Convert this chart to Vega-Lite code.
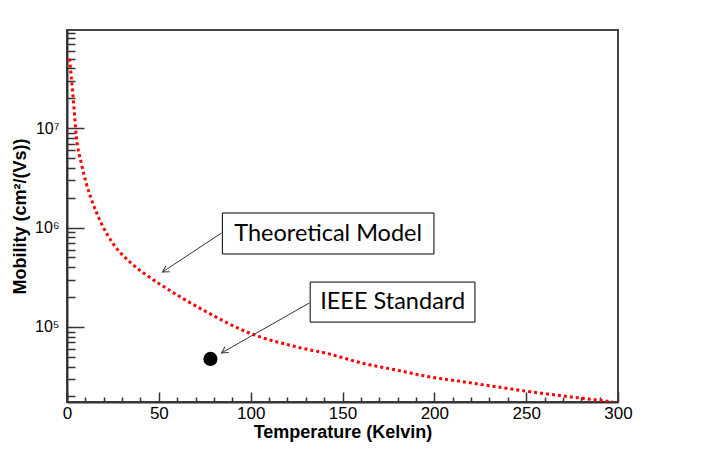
{
  "$schema": "https://vega.github.io/schema/vega-lite/v6.json",
  "width": 551,
  "height": 372,
  "autosize": {"type": "none"},
  "padding": {"left": 67, "top": 30, "right": 85, "bottom": 55},
  "background": "white",
  "config": {
    "view": {"stroke": "#444444", "strokeWidth": 2},
    "axis": {
      "labelFont": "Liberation Sans",
      "labelFontSize": 17,
      "labelColor": "black",
      "labelFlush": false,
      "titleFont": "Liberation Sans",
      "titleFontSize": 18,
      "titleFontWeight": "bold",
      "titleColor": "black",
      "domainColor": "#333333",
      "domainWidth": 2,
      "tickColor": "#333333",
      "tickWidth": 1.5,
      "grid": false
    }
  },
  "datasets": {
    "curve": [
      {"T": 1.4, "mu": 50000000},
      {"T": 3.3, "mu": 20700000},
      {"T": 5.1, "mu": 8200000},
      {"T": 7.8, "mu": 4420000},
      {"T": 10.5, "mu": 2780000},
      {"T": 14.1, "mu": 1750000},
      {"T": 18.7, "mu": 1100000},
      {"T": 25.0, "mu": 693000},
      {"T": 34.1, "mu": 453000},
      {"T": 43.2, "mu": 333000},
      {"T": 52.2, "mu": 258000},
      {"T": 75, "mu": 145000},
      {"T": 99.3, "mu": 87000},
      {"T": 125, "mu": 63000},
      {"T": 142.6, "mu": 53600},
      {"T": 160.9, "mu": 43200},
      {"T": 179, "mu": 37000},
      {"T": 197.1, "mu": 31600},
      {"T": 215.2, "mu": 28200},
      {"T": 233.4, "mu": 25100},
      {"T": 251.5, "mu": 22400},
      {"T": 269.6, "mu": 20300},
      {"T": 287.7, "mu": 18500},
      {"T": 297, "mu": 17700}
    ],
    "ieee": [{"T": 78.1, "mu": 47700}],
    "arrows": [
      {"T": 84.1, "mu": 881000, "T2": 52.0, "mu2": 357000},
      {"T": 131.9, "mu": 174000, "T2": 84.1, "mu2": 54800}
    ],
    "heads": [
      {"T": 52.0, "mu": 357000},
      {"T": 84.1, "mu": 54800}
    ],
    "boxes": [
      {"T": 84.6, "T2": 199.8, "mu": 1400000, "mu2": 542000, "label": "Theoretical Model"},
      {"T": 132.4, "T2": 222.1, "mu": 283000, "mu2": 112000, "label": "IEEE Standard"}
    ],
    "labels": [
      {"T": 142.2, "mu": 871000, "label": "Theoretical Model"},
      {"T": 177.3, "mu": 178000, "label": "IEEE Standard"}
    ]
  },
  "encoding": {
    "x": {
      "field": "T",
      "type": "quantitative",
      "title": "Temperature (Kelvin)",
      "scale": {"domain": [0, 300], "nice": false, "zero": false},
      "axis": {
        "values": [0, 10, 20, 30, 40, 50, 60, 70, 80, 90, 100, 110, 120, 130, 140, 150, 160, 170, 180, 190, 200, 210, 220, 230, 240, 250, 260, 270, 280, 290, 300],
        "labelExpr": "datum.value % 50 == 0 ? datum.label : ''",
        "tickSize": {"condition": {"test": "datum.value % 50 == 0", "value": -10}, "value": -5},
        "labelPadding": 13,
        "titlePadding": 2
      }
    },
    "y": {
      "field": "mu",
      "type": "quantitative",
      "title": "Mobility (cm²/(Vs))",
      "scale": {"type": "log", "domain": [17600, 97000000], "nice": false},
      "axis": {
        "values": [20000, 30000, 40000, 50000, 60000, 70000, 80000, 90000, 100000, 200000, 300000, 400000, 500000, 600000, 700000, 800000, 900000, 1000000, 2000000, 3000000, 4000000, 5000000, 6000000, 7000000, 8000000, 9000000, 10000000, 20000000, 30000000, 40000000, 50000000, 60000000, 70000000, 80000000, 90000000],
        "labelExpr": "datum.value == 100000 ? '10⁵' : datum.value == 1000000 ? '10⁶' : datum.value == 10000000 ? '10⁷' : ''",
        "labelFontSize": 16,
        "tickSize": {"condition": {"test": "datum.value == 100000 || datum.value == 1000000 || datum.value == 10000000", "value": -17}, "value": -8},
        "labelPadding": 25,
        "titlePadding": 5
      }
    }
  },
  "layer": [
    {
      "data": {"name": "curve"},
      "mark": {"type": "line", "color": "#ff0000", "strokeWidth": 3, "strokeDash": [3, 3], "interpolate": "monotone", "clip": true}
    },
    {
      "data": {"name": "ieee"},
      "mark": {"type": "point", "filled": true, "color": "black", "size": 200, "opacity": 1}
    },
    {
      "data": {"name": "arrows"},
      "mark": {"type": "rule", "color": "#333333", "strokeWidth": 1},
      "encoding": {
        "x2": {"field": "T2"},
        "y2": {"field": "mu2"}
      }
    },
    {
      "data": {"name": "heads"},
      "mark": {"type": "point", "shape": "M-1,-0.55L0,0L-1,0.55", "filled": false, "color": "#333333", "strokeWidth": 1, "size": 160, "angle": 148, "opacity": 1}
    },
    {
      "data": {"name": "boxes"},
      "mark": {"type": "rect", "fill": "white", "stroke": "black", "strokeWidth": 1},
      "encoding": {
        "x2": {"field": "T2"},
        "y2": {"field": "mu2"}
      }
    },
    {
      "data": {"name": "labels"},
      "mark": {"type": "text", "font": "Lato", "fontSize": 23.5, "color": "black", "align": "center", "baseline": "middle"},
      "encoding": {
        "text": {"field": "label"}
      }
    }
  ]
}
